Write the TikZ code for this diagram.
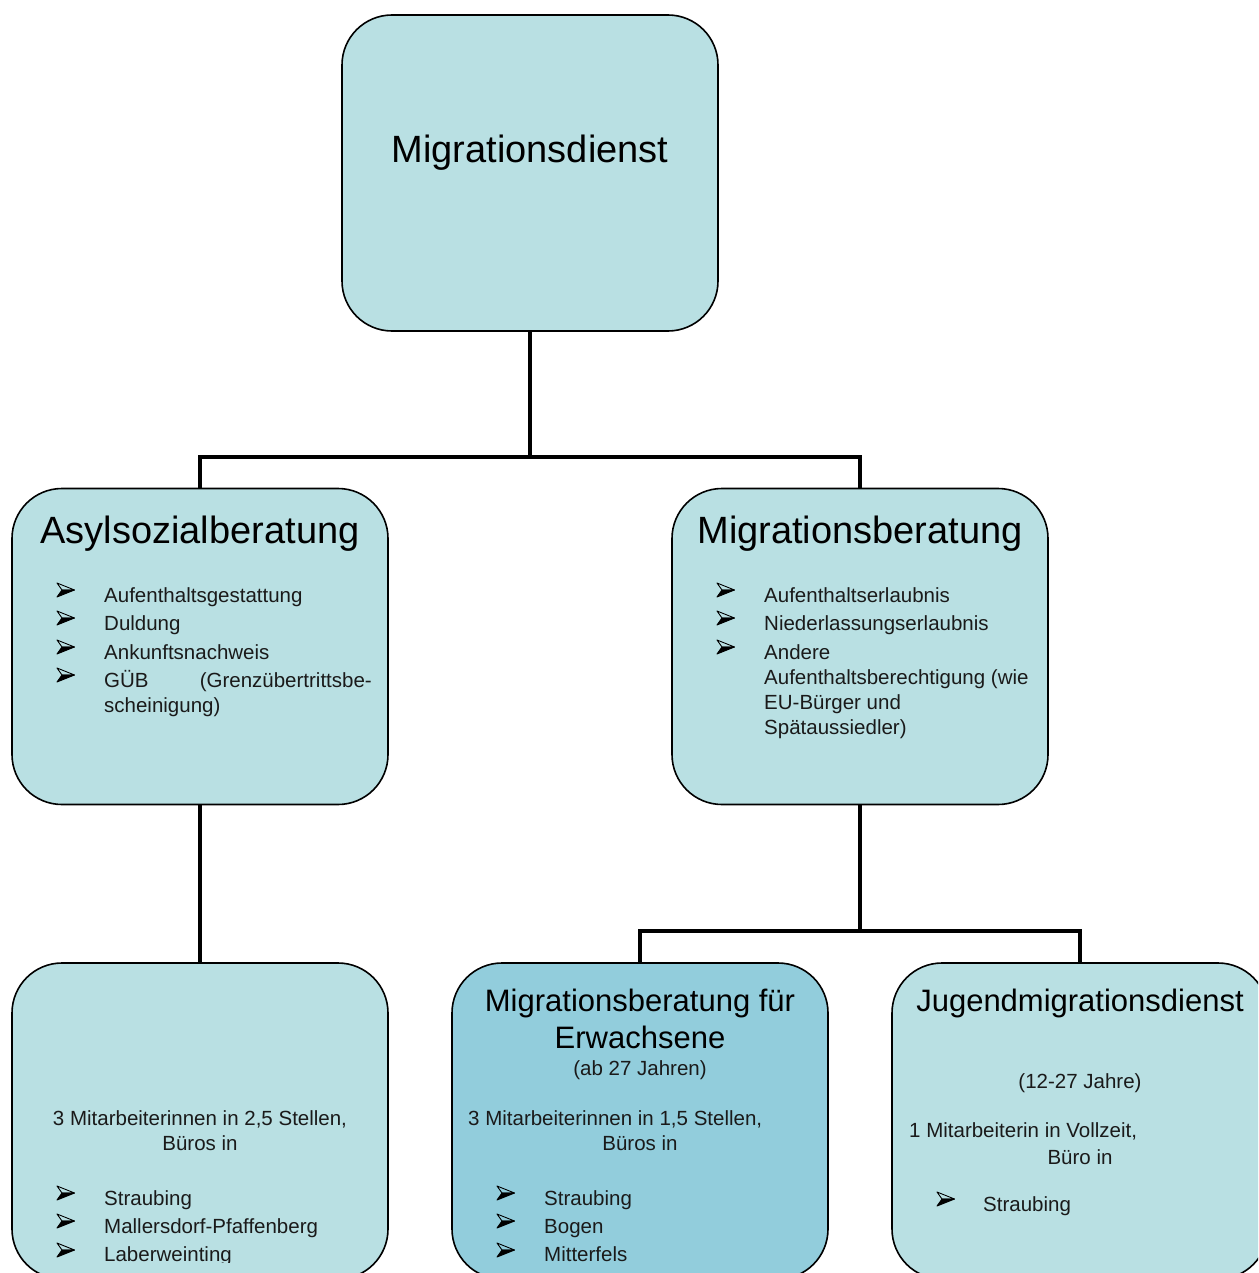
\documentclass[tikz,border=0pt]{standalone}
\usepackage{fontspec}
\setmainfont{Liberation Sans}
\definecolor{boxlight}{HTML}{B9E0E3}
\definecolor{boxdark}{HTML}{92CDDC}
\definecolor{textc}{HTML}{1A1A1A}
\begin{document}
\begin{tikzpicture}[x=1pt,y=-1pt,
  box/.style={draw=black, line width=1.6pt, fill=boxlight, rounded corners=50pt,
    minimum width=376pt, minimum height=316pt, inner sep=0pt, outer sep=0pt},
  conn/.style={line width=4.5pt, draw=black},
  big/.style={font=\fontsize{38}{44}\selectfont, text=black, inner sep=0pt, anchor=base},
  mid/.style={font=\fontsize{31}{37}\selectfont, text=black, inner sep=0pt, anchor=base},
  body/.style={font=\fontsize{20.5}{25}\selectfont, text=textc, inner sep=0pt, anchor=base west},
  bodyc/.style={font=\fontsize{20.5}{25}\selectfont, text=textc, inner sep=0pt, anchor=base},
  arrbul/.pic={
    \draw[black, line width=0.9pt, line join=round] (0,0) -- (17.5,7) -- (5,7) -- cycle;
    \filldraw[black, line width=0.9pt, line join=round] (0,14) -- (17.5,7) -- (5,7) -- cycle;
  }]
\clip (0,0) rectangle (1258,1273);
\fill[white] (0,0) rectangle (1258,1273);

% boxes
\node[box] (top) at (530,173) {};
\node[box] (asyl) at (200,646.5) {};
\node[box] (mber) at (860,646.5) {};
\node[box] (bl) at (200,1121) {};
\node[box, fill=boxdark] (bm) at (640,1121) {};
\node[box] (br) at (1080,1121) {};

% connectors
\coordinate (j1) at (530,457);
\coordinate (j2) at (860,931);
\draw[conn] (top.south) -- (j1) -| (asyl.north);
\draw[conn] (j1) -| (mber.north);
\draw[conn] (asyl.south) -- (bl.north);
\draw[conn] (mber.south) -- (j2) -| (bm.north);
\draw[conn] (j2) -| (br.north);

% top
\node[big] (ttop) at (530,163) {Migrationsdienst};

% Asylsozialberatung
\node[big] (tasyl) at (200,543) {Asylsozialberatung};
\pic at (57,583) {arrbul};
\node[body] (a1) at (104,602) {Aufenthaltsgestattung};
\pic at (57,611) {arrbul};
\node[body] (a2) at (104,630) {Duldung};
\pic at (57,640) {arrbul};
\node[body] (a3) at (104,659) {Ankunftsnachweis};
\pic at (57,668) {arrbul};
\node[body] (a4) at (104,687) {GÜB};
\node[bodyc, anchor=base east] (a4r) at (372,687) {(Grenzübertrittsbe-};
\node[body] (a5) at (104,712) {scheinigung)};

% Migrationsberatung
\node[big] (tmber) at (860,543) {Migrationsberatung};
\pic at (717,583) {arrbul};
\node[body] (m1) at (764,602) {Aufenthaltserlaubnis};
\pic at (717,611) {arrbul};
\node[body] (m2) at (764,630) {Niederlassungserlaubnis};
\pic at (717,640) {arrbul};
\node[body] (m3) at (764,659) {Andere};
\node[body] (m4) at (764,684) {Aufenthaltsberechtigung (wie};
\node[body] (m5) at (764,709) {EU-Bürger und};
\node[body] (m6) at (764,734) {Spätaussiedler)};

\begin{scope}
\clip (0,0) rectangle (1258,1262);
% bottom left
\node[bodyc] (l1) at (200,1125) {3 Mitarbeiterinnen in 2,5 Stellen,};
\node[bodyc] (l2) at (200,1150) {Büros in};
\pic at (57,1186) {arrbul};
\node[body] (l3) at (104,1205) {Straubing};
\pic at (57,1214) {arrbul};
\node[body] (l4) at (104,1233) {Mallersdorf-Pfaffenberg};
\pic at (57,1243) {arrbul};
\node[body] (l5) at (104,1261) {Laberweinting};

% bottom middle
\node[mid] (bmt1) at (640,1011) {Migrationsberatung für};
\node[mid] (bmt2) at (640,1048) {Erwachsene};
\node[bodyc] (bm1) at (640,1075) {(ab 27 Jahren)};
\node[body] (bm2) at (468,1125) {3 Mitarbeiterinnen in 1,5 Stellen,};
\node[bodyc] (bm3) at (640,1150) {Büros in};
\pic at (497,1186) {arrbul};
\node[body] (bm4) at (544,1205) {Straubing};
\pic at (497,1214) {arrbul};
\node[body] (bm5) at (544,1233) {Bogen};
\pic at (497,1243) {arrbul};
\node[body] (bm6) at (544,1261) {Mitterfels};
\end{scope}

% bottom right
\node[mid] (brt) at (1080,1011) {Jugendmigrationsdienst};
\node[bodyc] (br1) at (1080,1088) {(12-27 Jahre)};
\node[body] (br2) at (909,1137) {1 Mitarbeiterin in Vollzeit,};
\node[bodyc] (br3) at (1080,1164) {Büro in};
\pic at (937,1192) {arrbul};
\node[body] (br4) at (983,1211) {Straubing};
\end{tikzpicture}
\end{document}
